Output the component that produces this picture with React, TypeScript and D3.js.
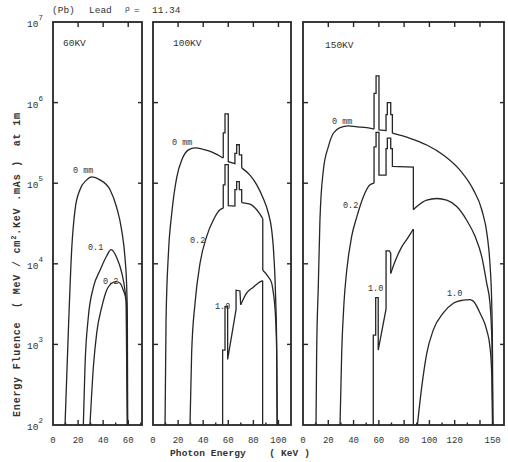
import React from 'react';
import * as d3 from 'd3';

type P = [number, number];

// ---------- data: [photon energy keV, energy fluence] ----------
// 60 kV
const kv60_0mm: P[] = [[9.6,100],[12.2,1400],[14.9,15000],[17.6,47000],[21.5,83000],[26.9,110000],[30.9,120000],[37.5,110000],[45.5,83000],[50.8,50000],[54.8,26000],[57.4,12000],[58.8,5100],[59.3,2200],[59.6,100]];
const kv60_01: P[] = [[24.2,100],[25.5,520],[28.2,2200],[32.2,5100],[37.5,8300],[42.8,12500],[46.3,15000],[50.8,12000],[54.8,7800],[57.4,4700],[58.8,2900],[59.4,100]];
const kv60_02: P[] = [[29.5,100],[32.2,520],[34.9,1400],[38.9,2900],[42.8,4700],[48.1,5900],[50,6000],[53.5,5750],[56.1,4700],[58.3,3500],[59.3,100]];

// 100 kV
const kv100_0mm_a: P[] = [[9.6,100],[10.4,2000],[12.3,13500],[15,43000],[19,120000],[23,195000],[28,257000],[33.6,275000],[40,263000],[48,240000],[56,205000]];
const kv100_0mm_k: P[] = [[56,205000],[56,420000],[57.4,420000],[57.4,725000],[60,725000],[60,185000],[65.3,175000],[65.3,234000],[66.7,234000],[66.7,300000],[68.8,300000],[68.8,224000],[70.7,224000],[70.7,155000]];
const kv100_0mm_b: P[] = [[70.7,155000],[77.3,126000],[82.7,95500],[87.9,64600],[91.9,42700],[94.6,26300],[95.9,16200],[96.7,10000],[97.3,6300],[97.8,3550],[98.5,1200],[99,100]];
const kv100_02_a: P[] = [[29.5,100],[30.8,776],[33.5,3236],[37.5,10200],[42.8,21900],[48,34700],[53.4,46800],[56,49000]];
const kv100_02_k: P[] = [[56,49000],[56,95500],[57.4,95500],[57.4,170000],[60,170000],[60,52500],[65.3,52000],[65.3,83000],[66.7,83000],[66.7,104700],[68.8,104700],[68.8,83000],[70.7,83000],[70.7,57500]];
const kv100_02_b: P[] = [[70.7,57500],[77.3,55000],[82.7,46800],[87.5,36300]];
const kv100_02_edge: P[] = [[87.5,36300],[87.5,8300]];
const kv100_02_c: P[] = [[87.5,8300],[91.9,6900],[94.6,5750],[95.9,4400],[96.7,3500],[97.8,2000],[98.6,800],[99,100]];
const kv100_10_k: P[] = [[55.5,100],[55.5,850],[57.4,850],[57.4,2950],[59.5,2950],[59.5,650],[66.2,2700],[66.2,4700],[69.3,4600],[69.9,3100]];
const kv100_10_b: P[] = [[69.9,3100],[74.7,4365],[80,5130],[83.7,5750],[87.4,6170]];
const kv100_10_edge: P[] = [[87.4,6170],[87.4,100]];

// 150 kV
const kv150_0mm_a: P[] = [[10.3,100],[10.8,776],[12.1,5250],[13.4,34700],[16.1,145000],[20,282000],[24,417000],[29.3,490000],[35.8,513000],[42.5,501000],[50.4,490000],[56.2,470000]];
const kv150_0mm_k: P[] = [[56.2,470000],[56.2,1300000],[57.8,1300000],[57.8,2140000],[60.1,2140000],[60.1,457000],[65.7,450000],[65.7,708000],[66.7,708000],[66.7,1000000],[69.4,1000000],[69.4,708000],[70.7,708000],[70.7,417000]];
const kv150_0mm_b: P[] = [[70.7,417000],[84.7,361000],[97.9,298000],[111,224000],[124.2,145000],[134.7,83200],[141.4,46800],[145.8,21900],[147.9,10000],[149.3,3200],[149.9,800],[150.2,100]];
const kv150_02_a: P[] = [[29.3,100],[30.6,776],[32.4,3236],[34.6,8318],[38.5,21900],[42.5,38000],[47.7,67600],[53,95500],[56.2,100000]];
const kv150_02_k: P[] = [[56.2,100000],[56.2,282000],[57.8,282000],[57.8,427000],[60.1,427000],[60.1,126000],[65.7,126000],[65.7,269000],[66.7,269000],[66.7,363000],[69.4,363000],[69.4,269000],[70.7,269000],[70.7,162000],[87.3,158000],[87.3,46800]];
const kv150_02_b: P[] = [[87.3,46800],[90,51300],[97.9,61700],[105.8,64600],[113.7,61700],[121.6,51300],[129.5,34700],[136.1,21900],[141.4,12300],[145.3,5750],[147.9,3240],[149.5,1000],[150.2,100]];
const kv150_10_k: P[] = [[55.6,100],[55.6,1300],[57.5,1300],[57.5,3800],[59.5,3800],[59.5,850],[65.7,2750],[65.7,14500],[68.3,14500],[69.4,13500],[69.4,7600]];
const kv150_10_b: P[] = [[69.4,7600],[72.8,10700],[78.1,16200],[82,20000],[87.3,27000]];
const kv150_10_edge: P[] = [[87.3,27000],[87.3,100]];
const kv150_10_hi: P[] = [[90.5,100],[93.9,295],[97.9,776],[103.1,1514],[111,2455],[118.9,3236],[126.8,3548],[132,3600],[135,3400],[140,2455],[145.3,1514],[147.9,933],[149.3,427],[149.9,100]];

// tick labels
const yExponents = [2, 3, 4, 5, 6, 7];
const xLabels60 = [0, 20, 40, 60];
const xLabels100 = [0, 20, 40, 60, 80, 100];
const xLabels150 = [0, 20, 40, 60, 80, 100, 120, 150];
const panelNames = ['60KV', '100KV', '150KV'];

// ---------- layout ----------
const TOP = 22, BOTTOM = 425;
type Seg = { pts: P[]; smooth: boolean };
type Note = { t: string; x: number; y: number };
const panels: { left: number; right: number; max: number; name: string; nx: number; ny: number; labels: number[]; segs: Seg[]; notes: Note[] }[] = [
  {
    left: 53, right: 142, max: 71, name: panelNames[0], nx: 63, ny: 46, labels: xLabels60,
    segs: [{ pts: kv60_0mm, smooth: true }, { pts: kv60_01, smooth: true }, { pts: kv60_02, smooth: true }],
    notes: [{ t: '0 mm', x: 73, y: 173 }, { t: '0.1', x: 88, y: 250 }, { t: '0.2', x: 103, y: 284 }],
  },
  {
    left: 153, right: 291, max: 110, name: panelNames[1], nx: 173, ny: 46, labels: xLabels100,
    segs: [
      { pts: kv100_0mm_a, smooth: true }, { pts: kv100_0mm_k, smooth: false }, { pts: kv100_0mm_b, smooth: true },
      { pts: kv100_02_a, smooth: true }, { pts: kv100_02_k, smooth: false }, { pts: kv100_02_b, smooth: true },
      { pts: kv100_02_edge, smooth: false }, { pts: kv100_02_c, smooth: true },
      { pts: kv100_10_k, smooth: false }, { pts: kv100_10_b, smooth: true }, { pts: kv100_10_edge, smooth: false },
    ],
    notes: [{ t: '0 mm', x: 172, y: 145 }, { t: '0.2', x: 190, y: 243 }, { t: '1.0', x: 215, y: 309 }],
  },
  {
    left: 303, right: 504, max: 159, name: panelNames[2], nx: 325, ny: 48, labels: xLabels150,
    segs: [
      { pts: kv150_0mm_a, smooth: true }, { pts: kv150_0mm_k, smooth: false }, { pts: kv150_0mm_b, smooth: true },
      { pts: kv150_02_a, smooth: true }, { pts: kv150_02_k, smooth: false }, { pts: kv150_02_b, smooth: true },
      { pts: kv150_10_k, smooth: false }, { pts: kv150_10_b, smooth: true }, { pts: kv150_10_edge, smooth: false },
      { pts: kv150_10_hi, smooth: true },
    ],
    notes: [{ t: '0 mm', x: 332, y: 124 }, { t: '0.2', x: 343, y: 208 }, { t: '1.0', x: 368, y: 291 }, { t: '1.0', x: 447, y: 296 }],
  },
];

const INK = '#262626';
const TXT = '#333';
const FONT = "'Liberation Mono', 'DejaVu Sans Mono', monospace";

export default function App() {
  const y = d3.scaleLog().domain([1e2, 1e7]).range([BOTTOM, TOP]);
  return (
    <svg width={508} height={462} style={{ position: 'absolute', left: 0, top: 0, background: '#fff' }} fontFamily={FONT}>
      <rect x={0} y={0} width={508} height={462} fill="#fff" />
      {/* title */}
      <g fontSize={9.5} fill={TXT}>
        <text x={52} y={13}>(Pb)</text>
        <text x={89} y={13}>Lead</text>
        <text x={125} y={11} fontSize={8}>ρ</text>
        <text x={134} y={13}>=</text>
        <text x={152} y={13}>11.34</text>
      </g>
      {/* y tick labels */}
      {yExponents.map((e) => (
        <text key={e} x={27} y={y(Math.pow(10, e)) + 5} fontSize={9.5} fill={TXT}>
          10<tspan dy={-7} fontSize={7.5}>{e}</tspan>
        </text>
      ))}
      {/* y title */}
      <text transform="translate(20,265) rotate(-90)" textAnchor="middle" fontSize={10} fontWeight="bold" fill={TXT}
        textLength={304} lengthAdjust="spacing" style={{ whiteSpace: 'pre' }}>
        {'Energy Fluence  ( MeV / cm'}<tspan dy={-4} fontSize={7}>2</tspan><tspan dy={4}>{'.KeV .mAs )  at 1m'}</tspan>
      </text>
      {/* x title */}
      <text x={170} y={456} fontSize={9.5} fontWeight="bold" fill={TXT} textLength={140} lengthAdjust="spacing" style={{ whiteSpace: 'pre' }}>
        {'Photon Energy    ( KeV )'}
      </text>
      {panels.map((p, i) => {
        const x = d3.scaleLinear().domain([0, p.max]).range([p.left, p.right]);
        const smooth = d3.line<P>().x((d) => x(d[0])).y((d) => y(d[1])).curve(d3.curveMonotoneX);
        const straight = d3.line<P>().x((d) => x(d[0])).y((d) => y(d[1]));
        const minor = d3.range(10, p.max, 10);
        return (
          <g key={i}>
            {p.segs.map((s, j) => (
              <path key={j} d={(s.smooth ? smooth : straight)(s.pts) || ''} fill="none" stroke={INK} strokeWidth={1.3} strokeLinejoin="miter" />
            ))}
            <rect x={p.left} y={TOP} width={p.right - p.left} height={BOTTOM - TOP} fill="none" stroke={INK} strokeWidth={1.8} />
            {minor.map((v) => (
              <line key={'b' + v} x1={x(v)} x2={x(v)} y1={BOTTOM} y2={BOTTOM - (v % 20 === 0 ? 5 : 2.5)} stroke={INK} strokeWidth={1.4} />
            ))}
            {minor.filter((v) => v % 20 === 0).map((v) => (
              <line key={'t' + v} x1={x(v)} x2={x(v)} y1={TOP} y2={TOP + 5} stroke={INK} strokeWidth={1.4} />
            ))}
            {yExponents.slice(1, -1).map((e) => (
              <g key={'y' + e}>
                <line x1={p.left} x2={p.left + 5} y1={y(Math.pow(10, e))} y2={y(Math.pow(10, e))} stroke={INK} strokeWidth={1.4} />
                <line x1={p.right} x2={p.right - 4} y1={y(Math.pow(10, e))} y2={y(Math.pow(10, e))} stroke={INK} strokeWidth={1.4} />
              </g>
            ))}
            {p.labels.map((v) => (
              <text key={'l' + v} x={x(v)} y={443} textAnchor="middle" fontSize={9} fill={TXT}>{v}</text>
            ))}
            <text x={p.nx} y={p.ny} fontSize={9.5} fill={TXT}>{p.name}</text>
            {p.notes.map((n, k) => (
              <text key={'n' + k} x={n.x} y={n.y} fontSize={8.5} fill={TXT} style={{ whiteSpace: 'pre' }}>{n.t}</text>
            ))}
          </g>
        );
      })}
    </svg>
  );
}
